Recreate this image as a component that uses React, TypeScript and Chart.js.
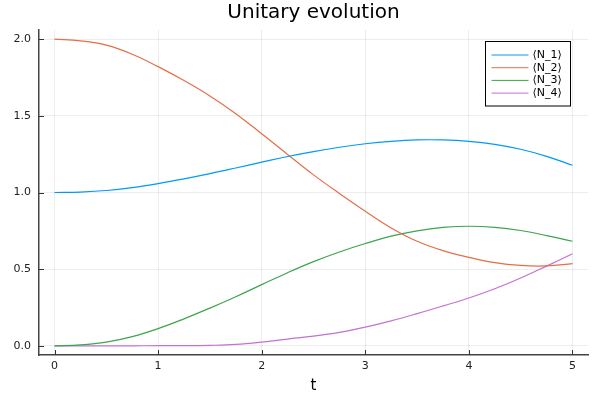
import React, { useEffect, useRef } from "react";
import { Chart, registerables } from "chart.js";

Chart.register(...registerables);

const times = [0, 0.25, 0.5, 0.75, 1, 1.25, 1.5, 1.75, 2, 2.25, 2.5, 2.75, 3, 3.25, 3.5, 3.75, 4, 4.25, 4.5, 4.75, 5];
const n1 = [1.0, 1.003, 1.013, 1.032, 1.058, 1.089, 1.123, 1.16, 1.198, 1.235, 1.267, 1.295, 1.318, 1.334, 1.343, 1.343, 1.334, 1.314, 1.282, 1.236, 1.178];
const n2 = [2.0, 1.989, 1.961, 1.902, 1.821, 1.73, 1.63, 1.514, 1.383, 1.248, 1.115, 0.994, 0.878, 0.769, 0.682, 0.621, 0.577, 0.542, 0.524, 0.521, 0.536];
const n3 = [0.0, 0.006, 0.024, 0.06, 0.112, 0.176, 0.246, 0.32, 0.399, 0.477, 0.549, 0.612, 0.667, 0.715, 0.75, 0.772, 0.78, 0.773, 0.752, 0.719, 0.682];
const n4 = [0.0, 0.0, 0.0, 0.0, 0.001, 0.001, 0.003, 0.009, 0.024, 0.044, 0.063, 0.088, 0.122, 0.163, 0.21, 0.26, 0.312, 0.372, 0.442, 0.52, 0.6];
const seriesLabels = ["⟨N_1⟩", "⟨N_2⟩", "⟨N_3⟩", "⟨N_4⟩"];
const seriesColors = ["#009AFA", "#E36F47", "#3EA44E", "#C371D2"];
const xTicks = [0, 1, 2, 3, 4, 5];
const yTicks = [0, 0.5, 1, 1.5, 2];
const titleText = "Unitary evolution";
const xLabel = "t";

const FONT = "'DejaVu Sans', sans-serif";

const overlay = {
  id: "overlay",
  afterDraw(chart: any) {
    const ctx = chart.ctx;
    const ca = chart.chartArea;
    const xs = chart.scales.x;
    const ys = chart.scales.y;
    ctx.save();
    // title
    ctx.fillStyle = "#000";
    ctx.font = `20px ${FONT}`;
    ctx.textAlign = "center";
    ctx.textBaseline = "middle";
    ctx.fillText(titleText, (ca.left + ca.right) / 2, 12.5);
    // x label
    ctx.font = `15px ${FONT}`;
    ctx.fillText(xLabel, (ca.left + ca.right) / 2, 386);
    // inward ticks
    ctx.strokeStyle = "#333";
    ctx.lineWidth = 1;
    ctx.beginPath();
    xTicks.forEach((v) => {
      const px = Math.round(xs.getPixelForValue(v)) + 0.5;
      ctx.moveTo(px, ca.bottom);
      ctx.lineTo(px, ca.bottom - 5);
    });
    yTicks.forEach((v) => {
      const py = Math.round(ys.getPixelForValue(v)) + 0.5;
      ctx.moveTo(ca.left, py);
      ctx.lineTo(ca.left + 5, py);
    });
    ctx.stroke();
    // legend
    const bx = ca.right - 102.5;
    const by = 41.5;
    const bw = 85;
    const bh = 64.5;
    ctx.fillStyle = "#fff";
    ctx.fillRect(bx, by, bw, bh);
    ctx.strokeStyle = "#000";
    ctx.lineWidth = 1;
    ctx.strokeRect(bx, by, bw, bh);
    ctx.font = `11px ${FONT}`;
    ctx.textAlign = "left";
    ctx.textBaseline = "middle";
    chart.data.datasets.forEach((ds: any, i: number) => {
      const y = by + 13.5 + i * 12.7;
      ctx.strokeStyle = ds.borderColor;
      ctx.beginPath();
      ctx.moveTo(bx + 6, y);
      ctx.lineTo(bx + 43, y);
      ctx.stroke();
      ctx.fillStyle = "#000";
      ctx.fillText(ds.label, bx + 47, y);
    });
    ctx.restore();
  },
};

export default function App() {
  const ref = useRef<HTMLCanvasElement | null>(null);
  useEffect(() => {
    document.body.style.margin = "0";
    const series = [n1, n2, n3, n4];
    const chart = new Chart(ref.current as HTMLCanvasElement, {
      type: "line",
      data: {
        datasets: series.map((s, i) => ({
          label: seriesLabels[i],
          data: times.map((t, j) => ({ x: t, y: s[j] })),
          borderColor: seriesColors[i],
          backgroundColor: seriesColors[i],
          borderWidth: 1.2,
          pointRadius: 0,
          tension: 0.4,
          fill: false,
        })),
      },
      options: {
        animation: false,
        responsive: false,
        maintainAspectRatio: false,
        layout: { padding: { top: 30, right: 12, left: 0, bottom: 0 } },
        plugins: { legend: { display: false }, title: { display: false }, tooltip: { enabled: false } },
        scales: {
          x: {
            type: "linear",
            min: -0.15,
            max: 5.15,
            afterBuildTicks: (s: any) => {
              s.ticks = xTicks.map((v) => ({ value: v }));
            },
            afterFit: (s: any) => {
              s.height = 45;
            },
            ticks: {
              font: { family: FONT, size: 11 },
              color: "#222",
              padding: 5,
              maxRotation: 0,
              callback: (v: any) => String(v),
            },
            grid: { color: "rgba(0,0,0,0.07)", drawTicks: false },
            border: { color: "#444", width: 1.5 },
          },
          y: {
            type: "linear",
            min: -0.06,
            max: 2.06,
            afterBuildTicks: (s: any) => {
              s.ticks = yTicks.map((v) => ({ value: v }));
            },
            afterFit: (s: any) => {
              s.width = 39;
            },
            ticks: {
              font: { family: FONT, size: 11 },
              color: "#222",
              padding: 8,
              callback: (v: any) => Number(v).toFixed(1),
            },
            grid: { color: "rgba(0,0,0,0.07)", drawTicks: false },
            border: { color: "#444", width: 1.5 },
          },
        },
      },
      plugins: [overlay],
    });
    return () => chart.destroy();
  }, []);
  return (
    <div style={{ position: "absolute", left: 0, top: 0, width: 600, height: 400, background: "#fff" }}>
      <canvas ref={ref} width={600} height={400} style={{ width: 600, height: 400 }} />
    </div>
  );
}
